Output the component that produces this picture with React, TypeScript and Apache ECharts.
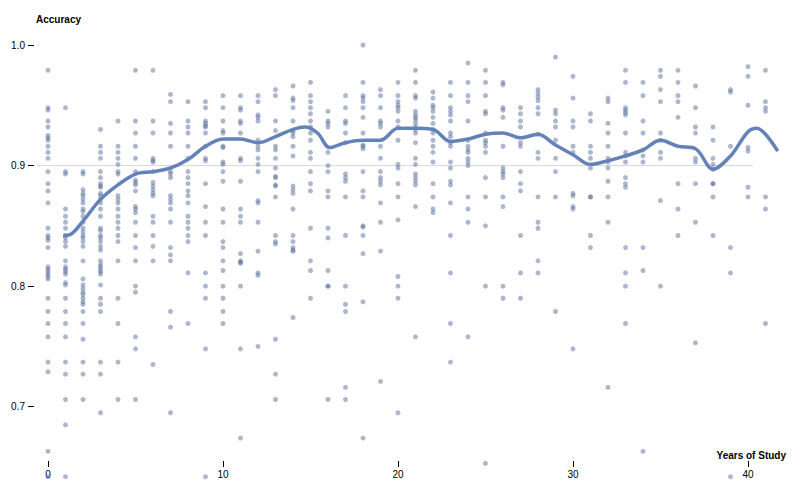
import React, { useEffect, useRef } from "react";
import * as echarts from "echarts";

// Years of study (x) for each column of points
const years: number[] = [
  0, 1, 2, 3, 4, 5, 6, 7, 8, 9, 10, 11, 12, 13, 14, 15, 16, 17, 18, 19, 20,
  21, 22, 23, 24, 25, 26, 27, 28, 29, 30, 31, 32, 33, 34, 35, 36, 37, 38, 39, 40, 41,
];

// Accuracy values observed for each year (same order as `years`)
const accuracyByYear: number[][] = [
  [0.979, 0.948, 0.946, 0.937, 0.932, 0.925, 0.923, 0.921, 0.916, 0.911, 0.906, 0.895, 0.885, 0.879, 0.869, 0.848, 0.842, 0.84, 0.838, 0.832, 0.816, 0.814, 0.812, 0.81, 0.808, 0.806, 0.79, 0.779, 0.769, 0.758, 0.737, 0.729, 0.663, 0.642],
  [0.948, 0.895, 0.893, 0.864, 0.858, 0.853, 0.848, 0.842, 0.84, 0.837, 0.833, 0.821, 0.816, 0.814, 0.812, 0.81, 0.803, 0.801, 0.79, 0.779, 0.769, 0.758, 0.737, 0.727, 0.706, 0.685, 0.642],
  [0.895, 0.893, 0.88, 0.877, 0.875, 0.872, 0.869, 0.864, 0.862, 0.858, 0.853, 0.848, 0.845, 0.842, 0.84, 0.837, 0.833, 0.821, 0.806, 0.801, 0.798, 0.795, 0.793, 0.79, 0.787, 0.785, 0.779, 0.769, 0.756, 0.737, 0.727, 0.706],
  [0.93, 0.916, 0.911, 0.906, 0.895, 0.89, 0.885, 0.883, 0.882, 0.877, 0.875, 0.872, 0.869, 0.864, 0.858, 0.848, 0.846, 0.842, 0.84, 0.837, 0.833, 0.83, 0.821, 0.818, 0.816, 0.814, 0.812, 0.81, 0.801, 0.79, 0.785, 0.779, 0.737, 0.727, 0.695],
  [0.937, 0.916, 0.911, 0.906, 0.901, 0.895, 0.893, 0.875, 0.872, 0.869, 0.864, 0.858, 0.853, 0.848, 0.842, 0.837, 0.821, 0.79, 0.769, 0.737, 0.706],
  [0.979, 0.937, 0.927, 0.916, 0.906, 0.895, 0.888, 0.886, 0.884, 0.879, 0.866, 0.864, 0.861, 0.853, 0.842, 0.832, 0.821, 0.8, 0.795, 0.758, 0.748, 0.706],
  [0.979, 0.937, 0.927, 0.906, 0.904, 0.903, 0.895, 0.886, 0.883, 0.88, 0.877, 0.875, 0.858, 0.853, 0.842, 0.833, 0.821, 0.735],
  [0.959, 0.953, 0.935, 0.927, 0.916, 0.895, 0.893, 0.89, 0.875, 0.872, 0.869, 0.864, 0.853, 0.832, 0.826, 0.821, 0.779, 0.766, 0.695],
  [0.953, 0.937, 0.932, 0.927, 0.916, 0.906, 0.895, 0.89, 0.885, 0.879, 0.875, 0.869, 0.858, 0.853, 0.848, 0.842, 0.837, 0.811, 0.769],
  [0.953, 0.948, 0.937, 0.935, 0.933, 0.932, 0.927, 0.916, 0.906, 0.904, 0.885, 0.866, 0.853, 0.842, 0.811, 0.8, 0.79, 0.748, 0.642],
  [0.958, 0.948, 0.937, 0.929, 0.927, 0.916, 0.915, 0.903, 0.901, 0.895, 0.887, 0.864, 0.853, 0.837, 0.832, 0.821, 0.813, 0.8, 0.79, 0.779, 0.769],
  [0.958, 0.948, 0.946, 0.937, 0.935, 0.927, 0.906, 0.904, 0.887, 0.864, 0.858, 0.853, 0.827, 0.821, 0.82, 0.819, 0.8, 0.748, 0.674],
  [0.958, 0.953, 0.942, 0.94, 0.937, 0.921, 0.916, 0.913, 0.906, 0.901, 0.895, 0.871, 0.869, 0.853, 0.829, 0.811, 0.809, 0.75],
  [0.963, 0.958, 0.937, 0.929, 0.916, 0.913, 0.906, 0.898, 0.891, 0.89, 0.884, 0.883, 0.874, 0.842, 0.837, 0.835, 0.756, 0.727, 0.706],
  [0.966, 0.956, 0.954, 0.948, 0.937, 0.929, 0.927, 0.924, 0.916, 0.908, 0.883, 0.88, 0.877, 0.864, 0.842, 0.837, 0.832, 0.83, 0.829, 0.774],
  [0.969, 0.958, 0.953, 0.948, 0.943, 0.937, 0.932, 0.927, 0.921, 0.911, 0.906, 0.895, 0.885, 0.879, 0.848, 0.821, 0.813, 0.79],
  [0.945, 0.937, 0.935, 0.932, 0.911, 0.9, 0.895, 0.879, 0.874, 0.848, 0.84, 0.813, 0.8, 0.8, 0.706],
  [0.958, 0.948, 0.937, 0.935, 0.927, 0.919, 0.893, 0.89, 0.887, 0.874, 0.842, 0.8, 0.785, 0.779, 0.716, 0.706],
  [1.0, 0.969, 0.958, 0.956, 0.953, 0.948, 0.94, 0.927, 0.917, 0.916, 0.914, 0.895, 0.879, 0.874, 0.85, 0.849, 0.842, 0.827, 0.787, 0.674],
  [0.963, 0.958, 0.948, 0.937, 0.935, 0.932, 0.916, 0.906, 0.895, 0.89, 0.887, 0.884, 0.869, 0.853, 0.829, 0.721],
  [0.969, 0.958, 0.953, 0.95, 0.948, 0.945, 0.937, 0.932, 0.921, 0.901, 0.898, 0.885, 0.874, 0.855, 0.808, 0.8, 0.79, 0.695],
  [0.979, 0.969, 0.958, 0.956, 0.945, 0.942, 0.94, 0.938, 0.935, 0.932, 0.93, 0.927, 0.919, 0.906, 0.901, 0.893, 0.89, 0.887, 0.884, 0.866, 0.758],
  [0.961, 0.956, 0.95, 0.948, 0.945, 0.94, 0.935, 0.93, 0.927, 0.921, 0.916, 0.911, 0.903, 0.885, 0.874, 0.864, 0.861],
  [0.969, 0.958, 0.948, 0.945, 0.942, 0.937, 0.927, 0.924, 0.919, 0.916, 0.903, 0.898, 0.887, 0.884, 0.869, 0.842, 0.811, 0.769, 0.737],
  [0.985, 0.969, 0.958, 0.953, 0.937, 0.921, 0.916, 0.913, 0.911, 0.906, 0.903, 0.9, 0.874, 0.864, 0.853, 0.758],
  [0.979, 0.969, 0.958, 0.945, 0.943, 0.927, 0.921, 0.919, 0.916, 0.911, 0.89, 0.874, 0.85, 0.8, 0.653],
  [0.969, 0.967, 0.948, 0.946, 0.94, 0.916, 0.898, 0.895, 0.893, 0.89, 0.874, 0.866, 0.8, 0.79],
  [0.948, 0.943, 0.937, 0.932, 0.919, 0.916, 0.895, 0.885, 0.879, 0.842, 0.811, 0.79],
  [0.963, 0.96, 0.957, 0.954, 0.948, 0.943, 0.926, 0.911, 0.906, 0.874, 0.853, 0.848, 0.821, 0.811],
  [0.99, 0.946, 0.943, 0.937, 0.932, 0.921, 0.906, 0.895, 0.874, 0.779],
  [0.974, 0.956, 0.937, 0.932, 0.916, 0.911, 0.877, 0.875, 0.866, 0.864, 0.748],
  [0.943, 0.937, 0.916, 0.911, 0.906, 0.898, 0.874, 0.874, 0.842, 0.832],
  [0.956, 0.953, 0.935, 0.927, 0.916, 0.906, 0.903, 0.898, 0.887, 0.874, 0.853, 0.716],
  [0.979, 0.969, 0.948, 0.946, 0.944, 0.942, 0.927, 0.911, 0.908, 0.903, 0.89, 0.885, 0.882, 0.832, 0.811, 0.8, 0.769],
  [0.969, 0.958, 0.937, 0.927, 0.913, 0.908, 0.903, 0.832, 0.813, 0.663],
  [0.979, 0.974, 0.963, 0.953, 0.927, 0.921, 0.911, 0.906, 0.871, 0.8],
  [0.979, 0.969, 0.958, 0.953, 0.94, 0.885, 0.864, 0.842],
  [0.966, 0.948, 0.932, 0.927, 0.906, 0.903, 0.885, 0.853, 0.753],
  [0.932, 0.921, 0.906, 0.901, 0.897, 0.885, 0.885, 0.874, 0.842],
  [0.963, 0.961, 0.916, 0.832, 0.811, 0.642],
  [0.982, 0.974, 0.95, 0.915, 0.912, 0.882, 0.874],
  [0.979, 0.953, 0.948, 0.945, 0.874, 0.864, 0.769],
];

// Smoothed trend line
const trendYears: number[] = [
  0.87, 1.3, 2, 3, 4, 5, 6, 7, 8, 9, 10, 11, 12, 13, 14, 14.7, 15.4, 16.1, 17, 18, 19, 20,
  21, 22, 23, 24, 25, 26, 27, 28, 29, 30, 31, 32, 33, 34, 35, 36, 37, 38, 39, 40, 40.5, 41, 41.7,
];
const trendAccuracy: number[] = [
  0.842, 0.843, 0.854, 0.872, 0.884, 0.893, 0.895, 0.898, 0.905, 0.916, 0.922, 0.922, 0.919, 0.924, 0.93, 0.932, 0.927, 0.915, 0.919, 0.921, 0.921, 0.931,
  0.931, 0.93, 0.92, 0.922, 0.926, 0.927, 0.923, 0.926, 0.917, 0.909, 0.901, 0.904, 0.908, 0.913, 0.921, 0.916, 0.914, 0.897, 0.908, 0.928, 0.931, 0.926, 0.912,
];

const yTicks: number[] = [0.7, 0.8, 0.9, 1.0];
const xTicks: number[] = [0, 10, 20, 30, 40];
const referenceY = 0.9;
const referenceFrom = -0.63;
const referenceTo = 40.29;

const FONT = "'Liberation Sans', Arial, Helvetica, sans-serif";

export default function App() {
  const ref = useRef<HTMLDivElement>(null);

  useEffect(() => {
    document.body.style.margin = "0";
    if (!ref.current) return;
    const chart = echarts.init(ref.current, undefined, { renderer: "svg" });

    const points: [number, number][] = [];
    years.forEach((yr, i) => {
      accuracyByYear[i].forEach((v) => points.push([yr, v]));
    });
    const trend = trendYears.map((x, i) => [x, trendAccuracy[i]]);

    chart.setOption({
      animation: false,
      backgroundColor: "#ffffff",
      grid: { left: 34, right: 17, top: 45, bottom: 41, containLabel: false },
      xAxis: {
        type: "value",
        min: -0.8,
        max: 42,
        axisLine: { show: false, onZero: false },
        axisTick: { show: true, inside: false, length: 6, lineStyle: { color: "#000" }, customValues: xTicks },
        axisLabel: { color: "#000", fontSize: 10, fontFamily: FONT, margin: 8, customValues: xTicks },
        splitLine: { show: false },
      },
      yAxis: {
        type: "value",
        min: 0.655,
        max: 1.0,
        axisLine: { show: false, onZero: false },
        axisTick: { show: true, inside: false, length: 6, lineStyle: { color: "#000" }, customValues: yTicks },
        axisLabel: {
          color: "#000",
          fontSize: 10,
          fontFamily: FONT,
          margin: 9,
          customValues: yTicks,
          formatter: (v: number) => v.toFixed(1),
        },
        splitLine: { show: false },
      },
      graphic: [
        {
          type: "text",
          left: 36,
          top: 14,
          style: { text: "Accuracy", fontSize: 10, fontWeight: "bold", fontFamily: FONT, fill: "#000" },
        },
        {
          type: "text",
          right: 14,
          top: 450,
          style: { text: "Years of Study", fontSize: 10, fontWeight: "bold", fontFamily: FONT, fill: "#000" },
        },
      ],
      series: [
        {
          type: "line",
          data: [
            [referenceFrom, referenceY],
            [referenceTo, referenceY],
          ],
          symbol: "none",
          clip: false,
          silent: true,
          lineStyle: { color: "#d6d6d6", width: 1 },
          z: 1,
        },
        {
          type: "scatter",
          data: points,
          symbolSize: 5,
          clip: false,
          itemStyle: { color: "#5a6f9a", opacity: 0.5 },
          z: 2,
        },
        {
          type: "line",
          data: trend,
          smooth: 0.35,
          symbol: "none",
          clip: false,
          lineStyle: { color: "#6481b8", width: 3.5 },
          z: 3,
        },
      ],
    });

    return () => chart.dispose();
  }, []);

  return <div ref={ref} style={{ width: 800, height: 502 }} />;
}
